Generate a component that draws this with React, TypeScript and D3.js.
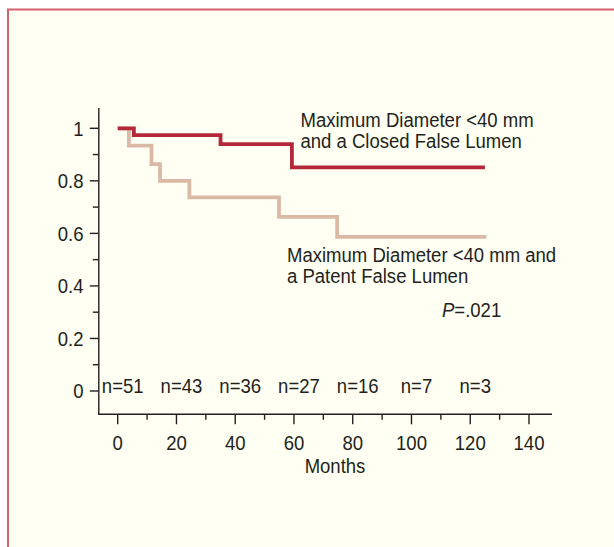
import React from "react";
import * as d3 from "d3";

// Kaplan-Meier steps: [month, survival]
const closedSteps: [number, number][] = [
  [0, 1.0], [5.5, 0.974], [35, 0.940], [59.3, 0.851], [125, 0.851],
];
const patentSteps: [number, number][] = [
  [0, 1.0], [3.8, 0.934], [11.5, 0.864], [14.4, 0.80], [24.4, 0.737],
  [54.9, 0.663], [74.7, 0.587], [125.5, 0.587],
];
const xTicks = [0, 20, 40, 60, 80, 100, 120, 140];
const xMinor = [10, 30, 50, 70, 90, 110, 130];
const yTicks = [0, 0.2, 0.4, 0.6, 0.8, 1];
const yMinor = [0.1, 0.3, 0.5, 0.7, 0.9];
const atRiskMonths = [0, 20, 40, 60, 80, 100, 120];
const atRiskLabels = ["n=51", "n=43", "n=36", "n=27", "n=16", "n=7", "n=3"];
const closedLabel = ["Maximum Diameter <40 mm", "and a Closed False Lumen"];
const patentLabel = ["Maximum Diameter <40 mm and", "a Patent False Lumen"];

const W = 614;
const H = 547;
const FONT = "'Liberation Sans', Arial, sans-serif";
const FS = 20.6;
const SX = 0.9;
const RED = "#b4283a";
const TAN = "#dbbaa5";
const INK = "#231f20";

function T({ x, y, anchor = "start", children }: { x: number; y: number; anchor?: string; children: React.ReactNode }) {
  return (
    <g transform={`translate(${x},${y}) scale(${SX},1)`}>
      <text x={0} y={0} textAnchor={anchor} fontSize={FS} fill={INK}>
        {children}
      </text>
    </g>
  );
}

export default function App() {
  const x = d3.scaleLinear().domain([0, 140]).range([117.7, 529]);
  const y = d3.scaleLinear().domain([0, 1]).range([391, 128.3]);
  const axisX0 = 98.8;
  const axisX1 = 552;
  const axisY0 = 414.3;
  const axisYTop = 108;

  const line = d3
    .line<[number, number]>()
    .x((d) => x(d[0]))
    .y((d) => y(d[1]))
    .curve(d3.curveStepAfter);

  return (
    <svg
      width={W}
      height={H}
      style={{ position: "absolute", left: 0, top: 0, display: "block" }}
      fontFamily={FONT}
    >
      <rect x={0} y={0} width={W} height={H} fill="#ffffff" />
      <rect x={8} y={9.5} width={W + 20} height={H + 20} fill="#fffff3" stroke="#d5606d" strokeWidth={2} />

      {/* curves */}
      <path d={line(patentSteps) || ""} fill="none" stroke={TAN} strokeWidth={3.8} />
      <path d={line(closedSteps) || ""} fill="none" stroke={RED} strokeWidth={3.8} />

      {/* y axis */}
      <line x1={axisX0} x2={axisX0} y1={axisYTop} y2={axisY0} stroke={INK} strokeWidth={1.4} />
      {yTicks.map((t) => (
        <g key={"yt" + t}>
          <line x1={axisX0 - 9} x2={axisX0} y1={y(t)} y2={y(t)} stroke={INK} strokeWidth={1.4} />
          <T x={83.5} y={y(t) + 7.4} anchor="end">
            {d3.format("")(t)}
          </T>
        </g>
      ))}
      {yMinor.map((t) => (
        <line key={"ym" + t} x1={axisX0 - 6} x2={axisX0} y1={y(t)} y2={y(t)} stroke={INK} strokeWidth={1.4} />
      ))}

      {/* x axis */}
      <line x1={axisX0 - 0.7} x2={axisX1} y1={axisY0} y2={axisY0} stroke={INK} strokeWidth={1.4} />
      {xTicks.map((t) => (
        <g key={"xt" + t}>
          <line x1={x(t)} x2={x(t)} y1={axisY0} y2={axisY0 + 10} stroke={INK} strokeWidth={1.4} />
          <T x={x(t)} y={450} anchor="middle">
            {t}
          </T>
        </g>
      ))}
      {xMinor.map((t) => (
        <line key={"xm" + t} x1={x(t)} x2={x(t)} y1={axisY0} y2={axisY0 + 5.5} stroke={INK} strokeWidth={1.4} />
      ))}
      <T x={335} y={473} anchor="middle">
        Months
      </T>

      {/* at-risk numbers */}
      {atRiskMonths.map((m, i) => (
        <T key={"n" + m} x={x(m) + 5} y={393} anchor="middle">
          {atRiskLabels[i]}
        </T>
      ))}

      {/* labels */}
      {closedLabel.map((s, i) => (
        <T key={"cl" + i} x={300.5} y={126.8 + i * 21}>
          {s}
        </T>
      ))}
      {patentLabel.map((s, i) => (
        <T key={"pl" + i} x={287} y={262 + i * 21}>
          {s}
        </T>
      ))}
      <T x={442} y={317}>
        <tspan fontStyle="italic">P</tspan>
        <tspan>=.021</tspan>
      </T>
    </svg>
  );
}
